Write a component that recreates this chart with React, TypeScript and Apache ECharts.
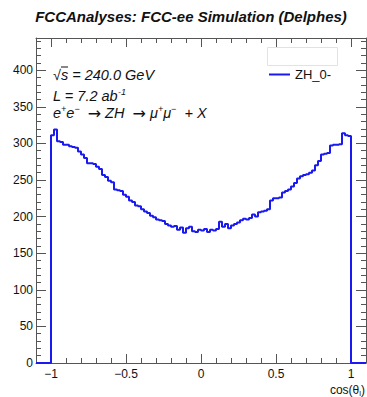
import React, { useEffect, useRef } from 'react';
import * as echarts from 'echarts';

const titleText = 'FCCAnalyses: FCC-ee Simulation (Delphes)';
const seriesName = 'ZH_0-';
const binLow = -1.0;
const binWidth = 0.02;
const counts = [
  311, 319, 303, 302, 298, 298, 296, 295, 294, 289,
  285, 280, 273, 273, 272, 268, 265, 257, 254, 249,
  247, 237, 236, 235, 230, 227, 222, 220, 215, 214,
  210, 207, 205, 201, 199, 196, 195, 194, 190, 188,
  186, 187, 182, 185, 178, 184, 186, 180, 179, 182,
  181, 183, 179, 182, 181, 183, 193, 186, 190, 184,
  188, 190, 192, 195, 197, 196, 198, 203, 200, 206,
  207, 208, 210, 222, 225, 225, 226, 233, 235, 237,
  241, 246, 252, 255, 257, 258, 260, 263, 270, 276,
  285, 286, 287, 297, 298, 298, 299, 314, 311, 310,
];
const xRange = [-1.1, 1.1];
const yRange = [0, 444];
const xMajorTicks = [-1, -0.5, 0, 0.5, 1];
const xMinorTicks = [-1.1, -0.9, -0.8, -0.7, -0.6, -0.4, -0.3, -0.2, -0.1, 0.1, 0.2, 0.3, 0.4, 0.6, 0.7, 0.8, 0.9, 1.1];
const yMajorTicks = [0, 50, 100, 150, 200, 250, 300, 350, 400];
const yMinorTicks = [10, 20, 30, 40, 60, 70, 80, 90, 110, 120, 130, 140, 160, 170, 180, 190, 210, 220, 230, 240, 260, 270, 280, 290, 310, 320, 330, 340, 360, 370, 380, 390, 410, 420, 430, 440];

const FONT = "'Liberation Sans', Arial, Helvetica, sans-serif";
const AXIS = '#555';
const BLUE = '#1a1af0';

function App() {
  const ref = useRef<HTMLDivElement>(null);
  useEffect(() => {
    if (!ref.current) return;
    const chart = echarts.init(ref.current, undefined, { renderer: 'svg' });
    const pts: number[][] = [[xRange[0], 0]];
    counts.forEach((c, i) => pts.push([binLow + i * binWidth, c]));
    pts.push([binLow + counts.length * binWidth, 0]);
    pts.push([xRange[1], 0]);

    const xAx = (pos: string, major: boolean, showLine: boolean, labels: boolean) => ({
      type: 'value', position: pos, min: xRange[0], max: xRange[1],
      axisLine: { show: showLine, onZero: false, lineStyle: { color: AXIS, width: 1 } },
      axisTick: { show: true, inside: true, length: major ? 9 : 5, customValues: major ? xMajorTicks : xMinorTicks, lineStyle: { color: AXIS, width: 1 } },
      axisLabel: labels ? {
        show: true, customValues: xMajorTicks, color: '#111', fontSize: 12, fontFamily: FONT, margin: 5,
        formatter: (v: number) => String(v).replace('-', '\u2212'),
      } : { show: false },
      splitLine: { show: false },
    });
    const yAx = (pos: string, major: boolean, showLine: boolean, labels: boolean) => ({
      type: 'value', position: pos, min: yRange[0], max: yRange[1],
      axisLine: { show: showLine, onZero: false, lineStyle: { color: AXIS, width: 1 } },
      axisTick: { show: true, inside: true, length: major ? 10 : 5, customValues: major ? yMajorTicks : yMinorTicks, lineStyle: { color: AXIS, width: 1 } },
      axisLabel: labels ? { show: true, customValues: yMajorTicks, color: '#111', fontSize: 12, fontFamily: FONT, margin: 3 } : { show: false },
      splitLine: { show: false },
    });

    const it = { fontSize: 14.5, fontStyle: 'italic', fontFamily: FONT, fill: '#111', lineHeight: 18 };
    const sup = { fontSize: 9, fontStyle: 'italic', fontFamily: FONT, fill: '#111', verticalAlign: 'top', lineHeight: 9 };
    const arr = { fontSize: 16, fontFamily: "'DejaVu Sans', sans-serif", fill: '#111', lineHeight: 18 };

    chart.setOption({
      animation: false,
      backgroundColor: '#fff',
      grid: { left: 36, right: 1, top: 38, bottom: 34, containLabel: false },
      xAxis: [xAx('bottom', true, true, true), xAx('bottom', false, false, false), xAx('top', true, true, false), xAx('top', false, false, false)],
      yAxis: [yAx('left', true, true, true), yAx('left', false, false, false), yAx('right', true, true, false), yAx('right', false, false, false)],
      legend: {
        show: true, left: 269, top: 68, padding: 0, icon: 'rect', itemWidth: 21, itemHeight: 2, itemGap: 5,
        data: [seriesName], textStyle: { fontSize: 13, fontFamily: FONT, color: '#111' },
      },
      series: [{
        name: seriesName, type: 'line', step: 'end', data: pts, xAxisIndex: 0, yAxisIndex: 0,
        showSymbol: false, clip: false, lineStyle: { color: BLUE, width: 2 }, itemStyle: { color: BLUE },
      }],
      graphic: [
        { type: 'text', x: 191, y: 16, style: { text: titleText, font: `italic bold 15px ${FONT}`, fill: '#111', align: 'center', verticalAlign: 'middle', textAlign: 'center', textVerticalAlign: 'middle' } },
        { type: 'rect', shape: { x: 267.5, y: 47.5, width: 70, height: 18 }, style: { fill: '#fff', stroke: '#e2e2e2', lineWidth: 1 } },
        { type: 'text', x: 53, y: 75, style: { text: '\u221As = 240.0 GeV', font: `italic 14.5px ${FONT}`, fill: '#111', verticalAlign: 'middle', textVerticalAlign: 'middle' } },
        { type: 'line', shape: { x1: 61, y1: 67, x2: 68, y2: 67 }, style: { stroke: '#111', lineWidth: 1 } },
        { type: 'text', x: 53, y: 96, style: { text: '{i|L = 7.2 ab}{s|-1}', rich: { i: it, s: sup }, verticalAlign: 'middle', textVerticalAlign: 'middle' } },
        { type: 'text', x: 53, y: 113, style: { text: '{i|e}{s|+}{i|e}{s|\u2212}{i|  }{a|\u2192}{i| ZH  }{a|\u2192}{i| \u03BC}{s|+}{i|\u03BC}{s|\u2212}{i|  + X}', rich: { i: it, s: sup, a: arr }, verticalAlign: 'middle', textVerticalAlign: 'middle' } },
        { type: 'text', x: 365, y: 390, style: { text: '{a|cos(\u03B8}{b|l}{a|)}', rich: { a: { fontSize: 12, fontFamily: FONT, fill: '#111', lineHeight: 14 }, b: { fontSize: 8, fontFamily: FONT, fill: '#111', verticalAlign: 'bottom', lineHeight: 8 } }, align: 'right', textAlign: 'right', verticalAlign: 'middle', textVerticalAlign: 'middle' } },
      ],
    });
    return () => chart.dispose();
  }, []);
  return <div ref={ref} style={{ position: 'fixed', left: 0, top: 0, width: 367, height: 397 }} />;
}

export default App;
